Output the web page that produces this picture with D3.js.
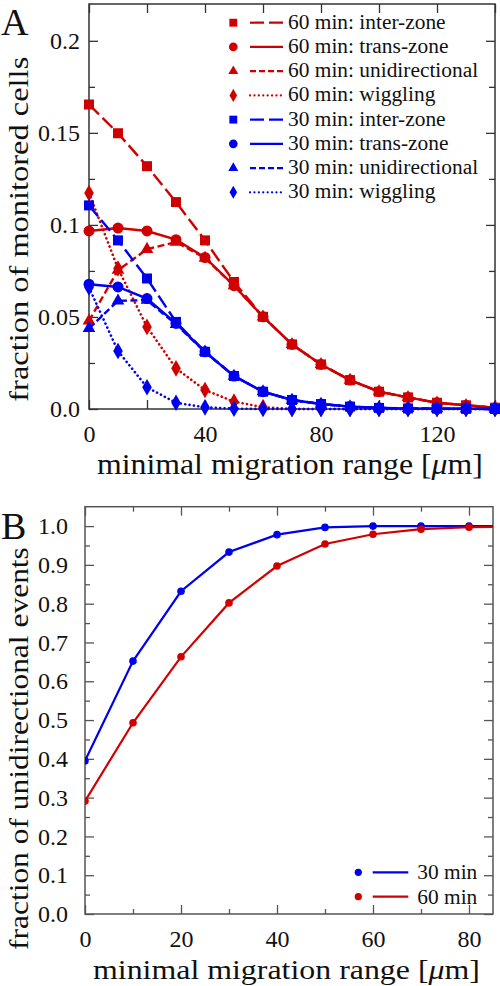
<!DOCTYPE html>
<html><head><meta charset="utf-8">
<script src="https://cdn.jsdelivr.net/npm/d3@7"></script>
<style>body{margin:0;background:#fff}svg text{font-family:"Liberation Serif","DejaVu Serif",serif;fill:#111}</style>
</head><body>
<svg id="c" width="500" height="986"></svg>
<script>
// ---------- DATA ----------
const xsA = [0,10,20,30,40,50,60,70,80,90,100,110,120,130,140];
const r60Inter  = [0.1654,0.1498,0.1319,0.1124,0.0916,0.0690,0.0501,0.0351,0.0242,0.0157,0.0094,0.0063,0.0034,0.0020,0.0007];
const r60Trans  = [0.0967,0.0983,0.0967,0.0920,0.0823,0.0670,0.0501,0.0351,0.0242,0.0157,0.0094,0.0063,0.0034,0.0020,0.0007];
const r60Uni    = [0.0479,0.0754,0.0868,0.0907,0.0820,0.0670,0.0501,0.0351,0.0242,0.0157,0.0094,0.0063,0.0034,0.0020,0.0007];
const r60Wig    = [0.1173,0.0763,0.0446,0.0221,0.0103,0.0040,0.0010,0,0,0,0,0,0,0,0];
const b30Inter  = [0.1106,0.0916,0.0709,0.0473,0.0311,0.0179,0.0094,0.0049,0.0027,0.0013,0.0006,0.0003,0.0002,0.0001,0];
const b30Trans  = [0.0678,0.0663,0.0600,0.0465,0.0311,0.0179,0.0094,0.0049,0.0027,0.0013,0.0006,0.0003,0.0002,0.0001,0];
const b30Uni    = [0.0438,0.0588,0.0591,0.0460,0.0310,0.0179,0.0094,0.0049,0.0027,0.0013,0.0006,0.0003,0.0002,0.0001,0];
const b30Wig    = [0.0660,0.0315,0.0118,0.0034,0.0009,0.0002,0,0,0,0,0,0,0,0,0];
const legendA = ["60 min: inter-zone","60 min: trans-zone","60 min: unidirectional","60 min: wiggling",
                 "30 min: inter-zone","30 min: trans-zone","30 min: unidirectional","30 min: wiggling"];
const yTicksA = [0,0.05,0.1,0.15,0.2];
const yTickLabelsA = ["0.0","0.05","0.1","0.15","0.2"];
const xTicksA = [0,40,80,120];

const xsB = [0,10,20,30,40,50,60,70,80,90];
const b30Frac = [0.395,0.652,0.832,0.933,0.978,0.9966,1.0,1.0,1.0,1.0];
const r60Frac = [0.291,0.493,0.663,0.802,0.897,0.954,0.979,0.992,0.997,0.999];
const legendB = ["30 min","60 min"];
const yTicksB = [0,0.1,0.2,0.3,0.4,0.5,0.6,0.7,0.8,0.9,1.0];
const xTicksB = [0,20,40,60,80];

// ---------- STYLE ----------
const RED = "#d00000", BLUE = "#0000f0";
const svg = d3.select("#c");
svg.append("rect").attr("width",500).attr("height",986).attr("fill","#fff");

function fitText(g, target){
  const w = g.node().getBBox().width;
  return w>0 ? target / w : 1;
}

// ---------- PANEL A ----------
const xA = d3.scaleLinear().domain([0,140]).range([89,495]);
const yA = d3.scaleLinear().domain([0,0.22]).range([409,4]);
const gA = svg.append("g");
const frameA = "#333";

function styleAxis(g,color){
  g.attr("font-family",null);
  g.select(".domain").remove();
  g.selectAll(".tick line").attr("stroke",color).attr("stroke-width",1.3);
  g.selectAll(".tick text").attr("font-size",24).attr("font-family","Liberation Serif").attr("fill","#111");
}
// minor ticks
const minorYA = d3.range(0.025,0.22,0.05);
const minorXA = d3.range(20,141,40);
gA.append("g").attr("transform","translate(89,0)").call(d3.axisLeft(yA).tickValues(yTicksA).tickSize(-9).tickPadding(9).tickFormat((d,i)=>yTickLabelsA[i])).call(g=>styleAxis(g,frameA));
gA.append("g").attr("transform","translate(89,0)").call(d3.axisLeft(yA).tickValues(minorYA).tickSize(-6).tickFormat("")).call(g=>styleAxis(g,frameA));
gA.append("g").attr("transform","translate(495,0)").call(d3.axisRight(yA).tickValues(yTicksA).tickSize(-9).tickFormat("")).call(g=>styleAxis(g,frameA));
gA.append("g").attr("transform","translate(495,0)").call(d3.axisRight(yA).tickValues(minorYA).tickSize(-6).tickFormat("")).call(g=>styleAxis(g,frameA));
gA.append("g").attr("transform","translate(0,409)").call(d3.axisBottom(xA).tickValues(xTicksA).tickSize(-9).tickPadding(16).tickFormat(d3.format("d"))).call(g=>styleAxis(g,frameA));
gA.append("g").attr("transform","translate(0,409)").call(d3.axisBottom(xA).tickValues(minorXA).tickSize(-9).tickFormat("")).call(g=>styleAxis(g,frameA));
gA.append("g").attr("transform","translate(0,4)").call(d3.axisTop(xA).tickValues(xTicksA.concat(minorXA)).tickSize(-9).tickFormat("")).call(g=>styleAxis(g,frameA));
gA.append("rect").attr("x",89).attr("y",4).attr("width",406).attr("height",405).attr("fill","none").attr("stroke",frameA).attr("stroke-width",1.5);

const seriesA = [
  {v:r60Wig,  c:RED,  sym:d3.symbolDiamond,  sz:80, dash:"0.1,4.3", cap:"round", lw:2.6},
  {v:r60Uni,  c:RED,  sym:d3.symbolTriangle, sz:70, dash:"7,3.5",   cap:"butt",  lw:2.4},
  {v:r60Trans,c:RED,  sym:d3.symbolCircle,   sz:95, dash:null,      cap:"butt",  lw:2.4},
  {v:r60Inter,c:RED,  sym:d3.symbolSquare,   sz:100,dash:"14,5",    cap:"butt",  lw:2.4},
  {v:b30Wig,  c:BLUE, sym:d3.symbolDiamond,  sz:80, dash:"0.1,4.3", cap:"round", lw:2.6},
  {v:b30Uni,  c:BLUE, sym:d3.symbolTriangle, sz:70, dash:"7,3.5",   cap:"butt",  lw:2.4},
  {v:b30Trans,c:BLUE, sym:d3.symbolCircle,   sz:95, dash:null,      cap:"butt",  lw:2.4},
  {v:b30Inter,c:BLUE, sym:d3.symbolSquare,   sz:100,dash:"14,5",    cap:"butt",  lw:2.4}
];
const lineA = d3.line().x(d=>xA(d[0])).y(d=>yA(d[1]));
seriesA.forEach(s=>{
  const pts = xsA.map((x,i)=>[x,s.v[i]]);
  gA.append("path").attr("d",lineA(pts)).attr("fill","none").attr("stroke",s.c)
    .attr("stroke-width",s.lw).attr("stroke-dasharray",s.dash).attr("stroke-linecap",s.cap);
  gA.selectAll(null).data(pts).join("path")
    .attr("transform",d=>`translate(${xA(d[0])},${yA(d[1])})`)
    .attr("d",d3.symbol().type(s.sym).size(s.sz)).attr("fill",s.c);
});

// legend A
const legOrder = [3,2,1,0,7,6,5,4];
legOrder.forEach((si,row)=>{
  const s = seriesA[si];
  const cy = 22.7 + row*24.23;
  gA.append("path").attr("transform",`translate(233.3,${cy})`)
    .attr("d",d3.symbol().type(s.sym).size(s.sz*0.62)).attr("fill",s.c);
  gA.append("line").attr("x1",250).attr("x2",283).attr("y1",cy).attr("y2",cy)
    .attr("stroke",s.c).attr("stroke-width",2.2).attr("stroke-linecap",s.cap)
    .attr("stroke-dasharray", s.dash==="7,3.5" ? "6,3" : s.dash);
  const tg = gA.append("g");
  tg.append("text").attr("x",0).attr("y",0).attr("font-size",20).text(legendA[row]);
  tg.attr("transform",`translate(288,${cy+6})scale(1.07,1)`);
});

// axis labels A
{
  const g = svg.append("g");
  const t = g.append("text").attr("font-size",29);
  t.append("tspan").text("minimal migration range [");
  t.append("tspan").attr("font-style","italic").text("μ");
  t.append("tspan").text("m]");
  const k = fitText(g,386);
  g.attr("transform",`translate(97,474)scale(${k},1)`);
}
{
  const g = svg.append("g");
  g.append("text").attr("font-size",28).text("fraction of monitored cells");
  const k = fitText(g,345);
  g.attr("transform",`translate(27.5,401.7)rotate(-90)scale(${k},1)`);
}
svg.append("text").attr("x",1).attr("y",35).attr("font-size",38).text("A");

// ---------- PANEL B ----------
const xB = d3.scaleLinear().domain([0,85]).range([85,493]);
const yB = d3.scaleLinear().domain([0,1.05]).range([914,506.7]);
const gB = svg.append("g");
const frameB = "#555";
const minorYB = d3.range(0.05,1.05,0.1);
const minorXB = [10,30,50,70];
gB.append("g").attr("transform","translate(85,0)").call(d3.axisLeft(yB).tickValues(yTicksB).tickSize(-9).tickPadding(17).tickFormat(d3.format(".1f"))).call(g=>styleAxis(g,frameB));
gB.append("g").attr("transform","translate(85,0)").call(d3.axisLeft(yB).tickValues(minorYB).tickSize(-5).tickFormat("")).call(g=>styleAxis(g,frameB));
gB.append("g").attr("transform","translate(493,0)").call(d3.axisRight(yB).tickValues(yTicksB).tickSize(-9).tickFormat("")).call(g=>styleAxis(g,frameB));
gB.append("g").attr("transform","translate(493,0)").call(d3.axisRight(yB).tickValues(minorYB).tickSize(-5).tickFormat("")).call(g=>styleAxis(g,frameB));
gB.append("g").attr("transform","translate(0,914)").call(d3.axisBottom(xB).tickValues(xTicksB).tickSize(-9).tickPadding(16).tickFormat(d3.format("d"))).call(g=>styleAxis(g,frameB));
gB.append("g").attr("transform","translate(0,914)").call(d3.axisBottom(xB).tickValues(minorXB).tickSize(-5).tickFormat("")).call(g=>styleAxis(g,frameB));
gB.append("g").attr("transform","translate(0,506.7)").call(d3.axisTop(xB).tickValues(xTicksB).tickSize(-9).tickFormat("")).call(g=>styleAxis(g,frameB));
gB.append("g").attr("transform","translate(0,506.7)").call(d3.axisTop(xB).tickValues(minorXB).tickSize(-5).tickFormat("")).call(g=>styleAxis(g,frameB));
gB.append("rect").attr("x",85).attr("y",506.7).attr("width",408).attr("height",407.3).attr("fill","none").attr("stroke",frameB).attr("stroke-width",1.5);

svg.append("clipPath").attr("id","clipB").append("rect").attr("x",85).attr("y",500).attr("width",408).attr("height",420);
const lineB = d3.line().x(d=>xB(d[0])).y(d=>yB(d[1]));
const seriesB = [{v:b30Frac,c:BLUE},{v:r60Frac,c:RED}];
const plotB = gB.append("g").attr("clip-path","url(#clipB)");
seriesB.forEach(s=>{
  const pts = xsB.map((x,i)=>[x,s.v[i]]);
  plotB.append("path").attr("d",lineB(pts)).attr("fill","none").attr("stroke",s.c).attr("stroke-width",2.2);
  plotB.selectAll(null).data(pts).join("circle").attr("cx",d=>xB(d[0])).attr("cy",d=>yB(d[1])).attr("r",3.8).attr("fill",s.c);
});
// legend B
seriesB.forEach((s,i)=>{
  const cy = 872.3 + i*24.4;
  gB.append("circle").attr("cx",358.3).attr("cy",cy).attr("r",3.6).attr("fill",s.c);
  gB.append("line").attr("x1",372.7).attr("x2",408.3).attr("y1",cy).attr("y2",cy).attr("stroke",s.c).attr("stroke-width",2.2);
  const tg = gB.append("g");
  tg.append("text").attr("font-size",20).text(legendB[i]);
  tg.attr("transform",`translate(417.3,${cy+7})scale(1.07,1)`);
});
{
  const g = svg.append("g");
  const t = g.append("text").attr("font-size",28);
  t.append("tspan").text("minimal migration range [");
  t.append("tspan").attr("font-style","italic").text("μ");
  t.append("tspan").text("m]");
  const k = fitText(g,387);
  g.attr("transform",`translate(93,979)scale(${k},1)`);
}
{
  const g = svg.append("g");
  g.append("text").attr("font-size",28).text("fraction of unidirectional events");
  const k = fitText(g,403);
  g.attr("transform",`translate(27.5,950)rotate(-90)scale(${k},1)`);
}
svg.append("text").attr("x",1).attr("y",538.5).attr("font-size",38).text("B");
</script>
</body></html>
